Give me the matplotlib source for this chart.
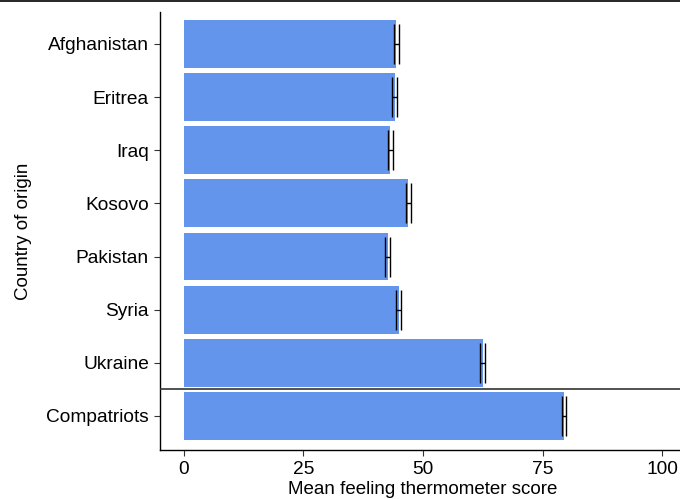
import matplotlib
matplotlib.use("Agg")
import matplotlib.pyplot as plt
from matplotlib.lines import Line2D

countries = ["Afghanistan", "Eritrea", "Iraq", "Kosovo", "Pakistan", "Syria", "Ukraine", "Compatriots"]
means = [44.4, 44.1, 43.2, 46.9, 42.6, 44.9, 62.5, 79.5]
ci_low = [43.9, 43.6, 42.7, 46.4, 42.1, 44.4, 62.0, 79.0]
ci_high = [44.9, 44.6, 43.7, 47.4, 43.1, 45.4, 63.0, 80.0]
xticks = [0, 25, 50, 75, 100]

plt.rcParams['font.family'] = ['Liberation Sans', 'DejaVu Sans']

fig = plt.figure(figsize=(6.8, 4.99), dpi=100)
ax = fig.add_axes([160/680, 49/499, 526/680, 438/499])

ypos = list(range(len(countries)))
ax.barh(ypos, means, height=0.9, color='#6495ED', zorder=2)
xerr = [[m - l for m, l in zip(means, ci_low)], [h - m for m, h in zip(means, ci_high)]]
ax.errorbar(means, ypos, xerr=xerr, fmt='none', ecolor='black', elinewidth=1.0,
            capsize=14.5, capthick=1.0, zorder=3)

ax.axhline(6.5, color='#333333', lw=1.2, zorder=4)

ax.set_xlim(-5, 105)
ax.set_ylim(7.64, -0.6)
ax.set_yticks(ypos)
ax.set_yticklabels(countries)
ax.set_xticks(xticks)
ax.set_xticklabels([str(t) for t in xticks])
ax.tick_params(axis='both', labelsize=13.8, length=4, width=0.8, color='#333333', pad=4, labelcolor='black')
ax.set_xlabel("Mean feeling thermometer score", fontsize=13.5, labelpad=2)
ax.set_ylabel("Country of origin", fontsize=13.5, labelpad=10)

for s in ['top', 'right']:
    ax.spines[s].set_visible(False)
for s in ['left', 'bottom']:
    ax.spines[s].set_linewidth(1.0)
    ax.spines[s].set_color('black')

fig.add_artist(Line2D([0, 1], [1 - 1/499, 1 - 1/499], transform=fig.transFigure, color='black', lw=1.2))

fig.savefig("out.png", dpi=100)
